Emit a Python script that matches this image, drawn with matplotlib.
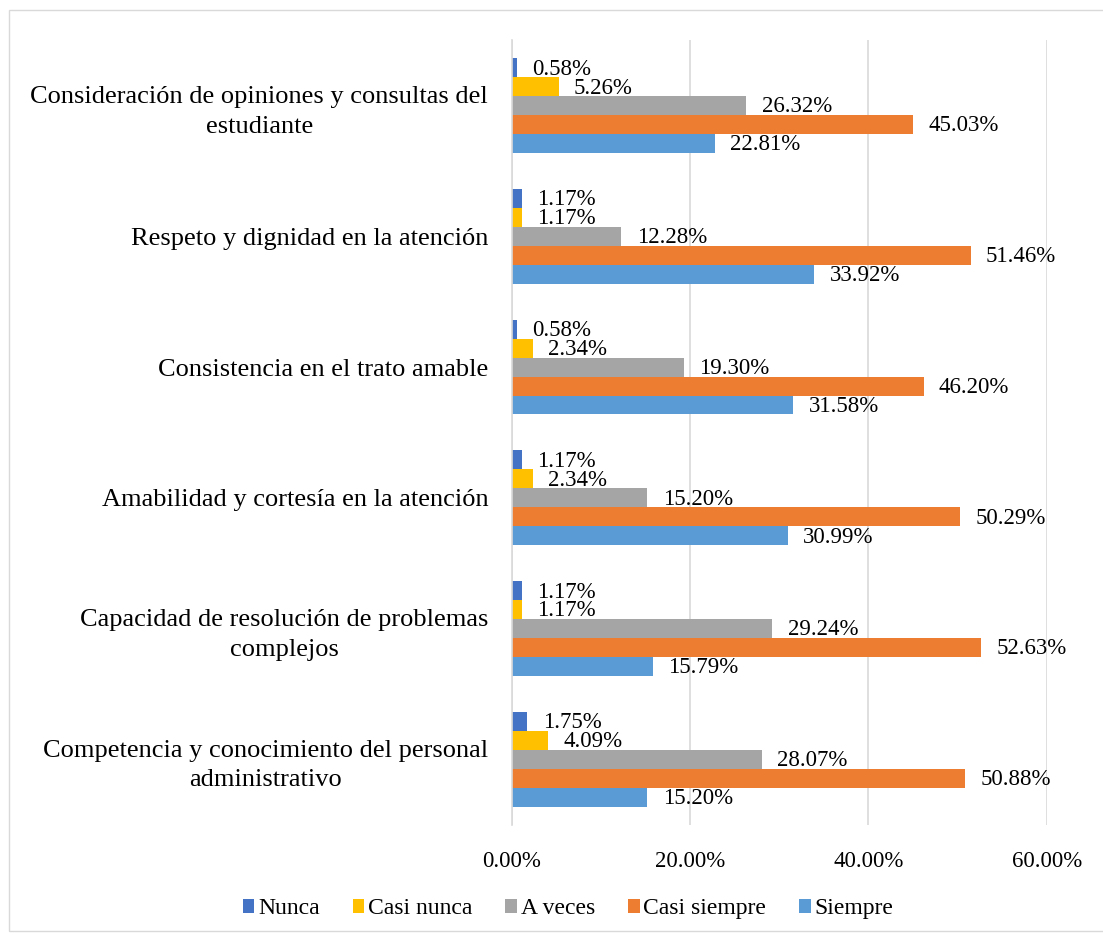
import matplotlib.pyplot as plt
import numpy as np
from matplotlib.patches import Rectangle

plt.rcParams['font.family'] = ['Liberation Serif', 'DejaVu Serif']

# categories listed top to bottom
categorias = [
    "Consideración de opiniones y consultas del\nestudiante",
    "Respeto y dignidad en la atención",
    "Consistencia en el trato amable",
    "Amabilidad y cortesía en la atención",
    "Capacidad de resolución de problemas\ncomplejos",
    "Competencia y conocimiento del personal\nadministrativo",
]
series = ["Nunca", "Casi nunca", "A veces", "Casi siempre", "Siempre"]
nunca = [0.58, 1.17, 0.58, 1.17, 1.17, 1.75]
casi_nunca = [5.26, 1.17, 2.34, 2.34, 1.17, 4.09]
a_veces = [26.32, 12.28, 19.30, 15.20, 29.24, 28.07]
casi_siempre = [45.03, 51.46, 46.20, 50.29, 52.63, 50.88]
siempre = [22.81, 33.92, 31.58, 30.99, 15.79, 15.20]
colores = ["#4472C4", "#FFC000", "#A5A5A5", "#ED7D31", "#5B9BD5"]

valores = [nunca, casi_nunca, a_veces, casi_siempre, siempre]

fig = plt.figure(figsize=(11.03, 9.35), dpi=100)
ax = fig.add_axes([0.464, 0.118, 0.485, 0.839])

n = len(categorias)
y = np.arange(n)[::-1].astype(float)  # top category at highest y
h = 0.145
for i, (nombre, vals, c) in enumerate(zip(series, valores, colores)):
    pos = y + (2 - i) * h
    ax.barh(pos, vals, height=h, color=c, label=nombre)
    for p, v in zip(pos, vals):
        ax.annotate(f"{v:.2f}%", (v, p), xytext=(11, -1), textcoords="offset points",
                    ha="left", va="center", fontsize=16.5)

ax.set_xlim(0, 60)
ax.set_ylim(-0.5, n - 0.5)
ax.set_xticks([0, 20, 40, 60])
ax.set_xticklabels(["0.00%", "20.00%", "40.00%", "60.00%"], fontsize=16.5)
ax.set_yticks(y)
ax.set_yticklabels(categorias, fontsize=19, ha="right", multialignment="center",
                   linespacing=1.45)
ax.tick_params(axis="y", length=0, pad=17)
ax.tick_params(axis="x", length=0, pad=19)
ax.xaxis.grid(True, color="#D9D9D9", linewidth=1.2)
ax.set_axisbelow(True)
for s in ["top", "right", "bottom"]:
    ax.spines[s].set_visible(False)
ax.spines["left"].set_color("#D9D9D9")
ax.spines["left"].set_linewidth(1.2)

fig.legend(loc="lower center", bbox_to_anchor=(0.515, -0.006), ncol=5, frameon=False,
           fontsize=17, handlelength=0.5, handleheight=0.5, handletextpad=0.15,
           columnspacing=1.4)

fig.patches.append(Rectangle((0.008, 0.004), 0.995, 0.985, transform=fig.transFigure,
                             fill=False, edgecolor="#D9D9D9", linewidth=1))

fig.savefig("out.png", dpi=100)
